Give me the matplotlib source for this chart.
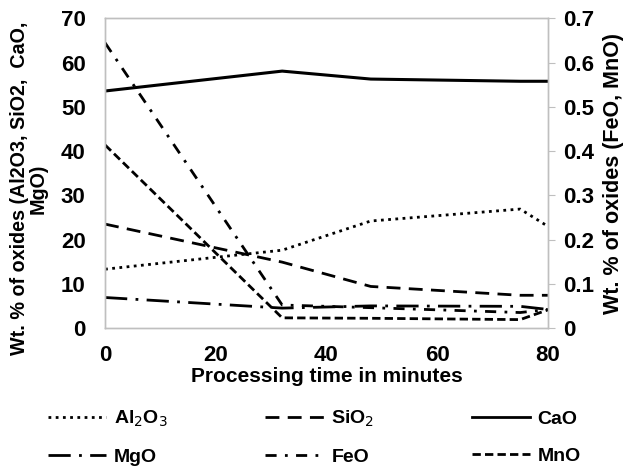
import matplotlib
matplotlib.use("Agg")
import matplotlib.pyplot as plt
from matplotlib.lines import Line2D

plt.rcParams["font.family"] = ["Liberation Sans", "DejaVu Sans"]

# Processing time (minutes)
time = [0, 32, 48, 75, 80]

# Left axis oxides (wt. %)
al2o3 = [13.3, 17.6, 24.2, 26.9, 23.0]
sio2 = [23.5, 14.9, 9.4, 7.4, 7.4]
cao = [53.6, 58.1, 56.3, 55.8, 55.8]
mgo = [6.9, 4.5, 5.0, 4.9, 4.2]

# Right axis oxides (wt. %)
feo = [0.645, 0.052, 0.046, 0.035, 0.042]
mno = [0.414, 0.023, 0.022, 0.019, 0.041]

x_ticks = [0, 20, 40, 60, 80]
left_ticks = [0, 10, 20, 30, 40, 50, 60, 70]
right_ticks = [0, 0.1, 0.2, 0.3, 0.4, 0.5, 0.6, 0.7]
right_labels = ["0", "0.1", "0.2", "0.3", "0.4", "0.5", "0.6", "0.7"]

styles = {
    "Al2O3": (0, (1, 1.6)),
    "SiO2": (0, (5, 3)),
    "CaO": "-",
    "MgO": (0, (8, 3, 1, 3)),
    "FeO": (0, (4, 3, 1, 3)),
    "MnO": (0, (3, 1.5)),
}

fig = plt.figure(figsize=(6.29, 4.74), dpi=100)
ax = fig.add_axes([0.167, 0.308, 0.704, 0.653])
ax2 = ax.twinx()

lw = 2.0
ax.plot(time, al2o3, color="black", lw=lw, linestyle=styles["Al2O3"])
ax.plot(time, sio2, color="black", lw=lw, linestyle=styles["SiO2"])
ax.plot(time, cao, color="black", lw=lw + 0.2, linestyle=styles["CaO"])
ax.plot(time, mgo, color="black", lw=lw, linestyle=styles["MgO"])
ax2.plot(time, feo, color="black", lw=lw, linestyle=styles["FeO"])
ax2.plot(time, mno, color="black", lw=lw, linestyle=styles["MnO"])

ax.set_xlim(0, 80)
ax.set_ylim(0, 70)
ax2.set_ylim(0, 0.7)

ax.set_xticks(x_ticks)
ax.set_yticks(left_ticks)
ax2.set_yticks(right_ticks)
ax2.set_yticklabels(right_labels)

for a in (ax, ax2):
    for s in a.spines.values():
        s.set_color("#bfbfbf")
        s.set_linewidth(1.0)

ax.tick_params(axis="x", length=0, labelsize=16, pad=12)
ax.tick_params(axis="y", length=0, labelsize=16, pad=14)
ax2.tick_params(axis="y", length=5, color="#bfbfbf", labelsize=16, pad=6)
for lab in ax.get_xticklabels() + ax.get_yticklabels() + ax2.get_yticklabels():
    lab.set_fontweight("bold")

ax.set_xlabel("Processing time in minutes", fontsize=15, fontweight="bold", labelpad=1)
ax.set_ylabel("Wt. % of oxides (Al2O3, SiO2,  CaO,\nMgO)", fontsize=14.2,
              fontweight="bold", labelpad=4, linespacing=0.95)
ax.yaxis.set_label_coords(-0.13, 0.45)
ax2.set_ylabel("Wt. % of oxides (FeO, MnO)", fontsize=15.5, fontweight="bold", labelpad=6)

# Legend below the chart, two rows of three
names = ["Al$_2$O$_3$", "MgO", "SiO$_2$", "FeO", "CaO", "MnO"]
keys = ["Al2O3", "MgO", "SiO2", "FeO", "CaO", "MnO"]
handles = [Line2D([0], [0], color="black", lw=lw, linestyle=styles[k]) for k in keys]
leg = fig.legend(handles, names, ncol=3, loc="upper center", bbox_to_anchor=(0.5, 0.175),
                 frameon=False, fontsize=14, handlelength=3.0, handletextpad=0.4,
                 columnspacing=5.0, labelspacing=1.0)
for t in leg.get_texts():
    t.set_fontweight("bold")

fig.savefig("out.png", dpi=100)
